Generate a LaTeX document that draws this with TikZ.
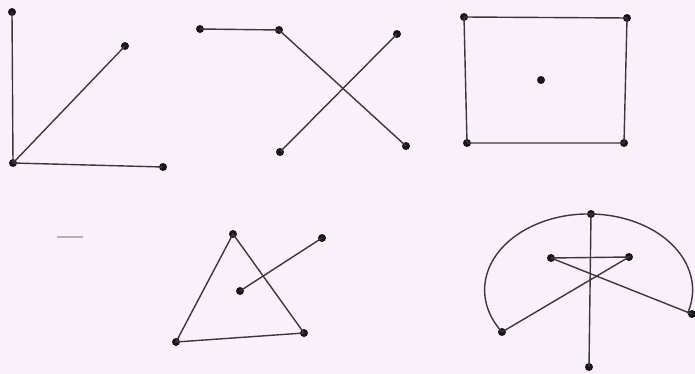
\documentclass[tikz,border=0pt]{standalone}
\usetikzlibrary{calc}
\definecolor{bgpink}{RGB}{250,240,250}
\definecolor{linegray}{RGB}{60,55,60}
\definecolor{dotblack}{RGB}{25,22,25}
\begin{document}
\begin{tikzpicture}[x=1pt,y=-1pt,
  pt/.style={circle,fill=dotblack,inner sep=0pt,minimum size=8pt},
  ln/.style={draw=linegray,line width=1.4pt}]
\fill[bgpink] (0,0) rectangle (695,374);
\useasboundingbox (0,0) rectangle (695,374);
% figure 1
\node[pt] (a1) at (12,12) {};
\node[pt] (a2) at (125,46) {};
\node[pt] (a3) at (13,163) {};
\node[pt] (a4) at (163,167) {};
\draw[ln] (a1.center) -- (a3.center) -- (a4.center);
\draw[ln] (a3.center) -- (a2.center);
% figure 2
\node[pt] (b1) at (200,29) {};
\node[pt] (b2) at (279,30) {};
\node[pt] (b3) at (397,34) {};
\node[pt] (b4) at (280,152) {};
\node[pt] (b5) at (406,146) {};
\draw[ln] (b1.center) -- (b2.center) -- (b5.center);
\draw[ln] (b3.center) -- (b4.center);
% figure 3
\node[pt] (c1) at (464,17) {};
\node[pt] (c2) at (627,18) {};
\node[pt] (c3) at (624,143) {};
\node[pt] (c4) at (467,143) {};
\node[pt] (c5) at (541,80) {};
\draw[ln] (c1.center) -- (c2.center) -- (c3.center) -- (c4.center) -- cycle;
% stray dash
\coordinate (m1) at (57,237);
\coordinate (m2) at (83,237);
\draw[draw=gray!60,line width=1.4pt] (m1) -- (m2);
% figure 4
\node[pt] (d1) at (233,234) {};
\node[pt] (d2) at (176,342) {};
\node[pt] (d3) at (304,333) {};
\node[pt] (d4) at (240,291) {};
\node[pt] (d5) at (322,238) {};
\draw[ln] (d1.center) -- (d2.center) -- (d3.center) -- cycle;
\draw[ln] (d4.center) -- (d5.center);
% figure 5
\node[pt] (e1) at (591,214) {};
\node[pt] (e2) at (589,367) {};
\node[pt] (e3) at (551,258) {};
\node[pt] (e4) at (629,257) {};
\node[pt] (e5) at (502,332) {};
\node[pt] (e6) at (692,314) {};
\draw[ln] (e1.center) -- (e2.center);
\draw[ln] (e3.center) -- (e4.center) -- (e5.center);
\draw[ln] (e3.center) -- (e6.center);
\draw[ln] (e5.center) arc[start angle=213.6, end angle=-18, x radius=104pt, y radius=76pt];
\end{tikzpicture}
\end{document}
